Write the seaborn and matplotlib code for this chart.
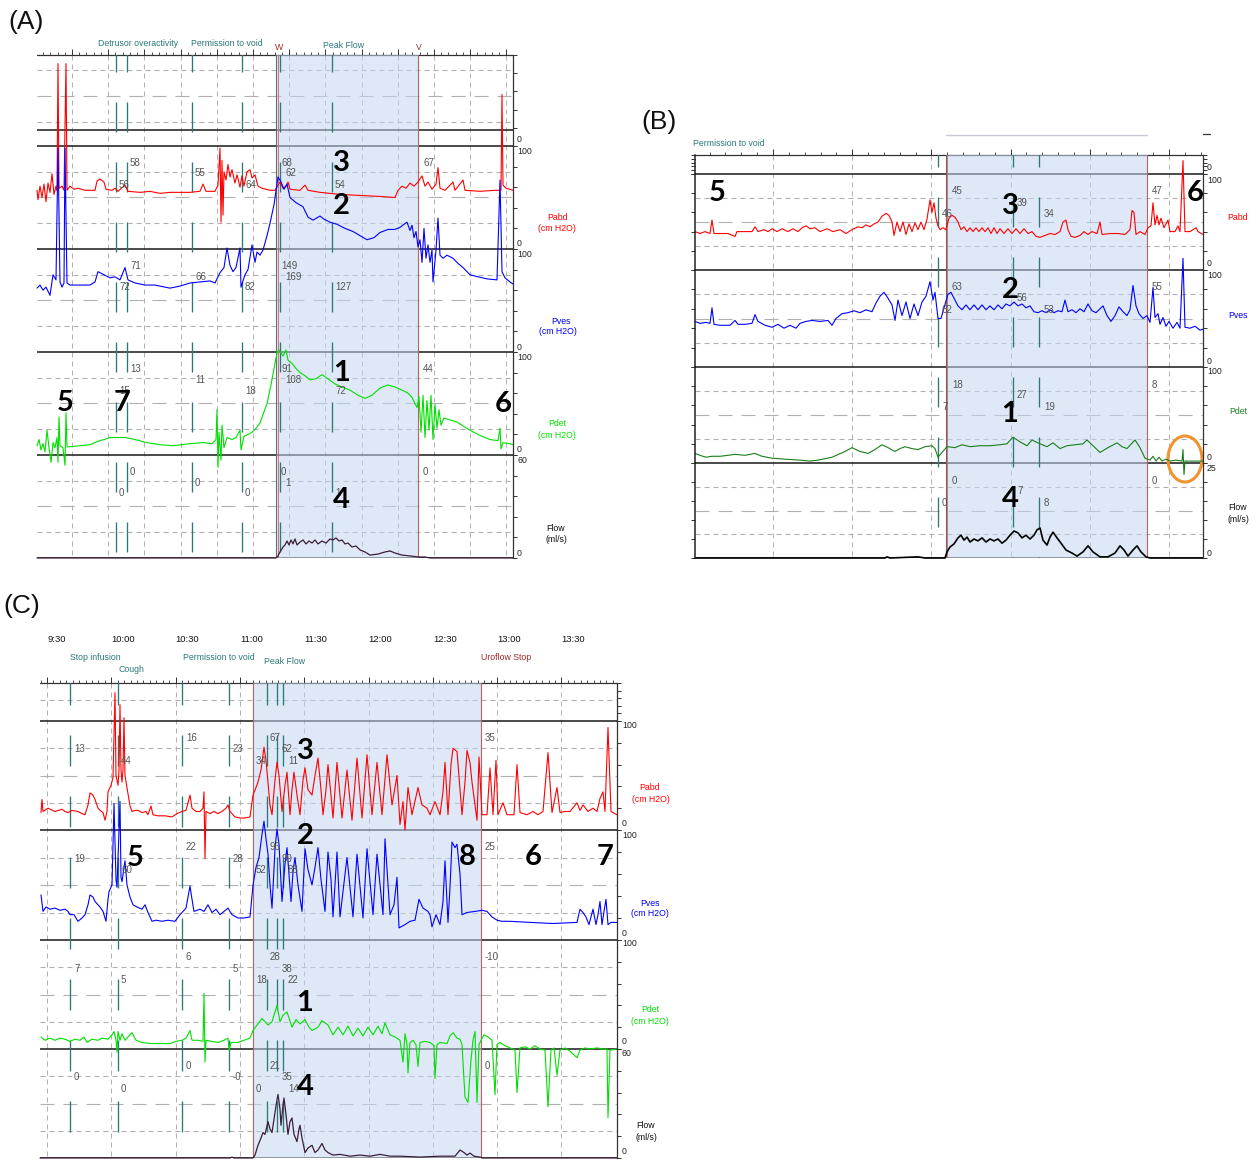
import numpy as np
import pandas as pd
import seaborn as sns
import matplotlib.pyplot as plt

sns.set_theme(style="white")
plt.rcParams['font.family'] = ['Liberation Sans', 'DejaVu Sans']
plt.rcParams['lines.scale_dashes'] = False

# ------------------------------------------------------------------ data
# (time index, value) pairs read from the tracings
A_pabd = [(0,57),(1,48),(3,61),(5,50),(7,63),(9,46),(11,64),(13,55),(15,73),(17,53),(19,61),(20,57),(21,180),(22,59),(25,61),(27,57),(29,180),(30,57),(33,61),(37,58),(41,59),(48,57),(58,57),(60,66),(63,68),(67,65),(69,58),(75,57),(78,59),(81,56),(88,62),(91,56),(103,55),(113,56),(123,54),(133,55),(143,55),(153,55),(163,56),(166,63),(169,56),(178,56),(181,62),(183,98),(184,26),(185,86),(186,33),(187,75),(189,67),(191,82),(193,70),(195,77),(198,64),(200,72),(203,60),(205,71),(207,61),(210,75),(213,77),(215,69),(218,72),(221,61),(225,59),(229,58),(233,57),(238,57),(243,65),(246,59),(249,61),(251,65),(253,58),(263,57),(268,62),(271,57),(283,55),(303,53),(323,52),(343,51),(358,50),(361,57),(365,61),(369,59),(373,64),(377,61),(381,65),(385,71),(388,61),(391,65),(395,58),(399,63),(401,79),(403,59),(408,57),(416,65),(418,57),(426,67),(428,57),(443,56),(458,57),(464,57),(465,150),(466,62),(469,59),(476,57)]
A_pves = [(0,62),(3,65),(6,60),(9,63),(13,55),(16,75),(19,70),(21,198),(23,68),(25,63),(27,67),(28,198),(30,67),(33,65),(43,65),(53,65),(58,68),(61,78),(65,76),(69,74),(73,72),(78,73),(83,70),(88,82),(91,70),(98,67),(108,65),(118,65),(128,63),(133,62),(143,64),(153,67),(163,68),(173,69),(178,67),(183,77),(187,82),(190,101),(193,84),(196,78),(199,82),(203,101),(204,63),(208,75),(211,80),(215,104),(218,87),(220,97),(223,94),(226,99),(230,113),(233,125),(237,143),(241,170),(244,165),(247,158),(250,163),(253,150),(259,145),(266,141),(271,131),(276,128),(283,132),(287,129),(293,126),(300,124),(308,120),(316,117),(323,113),(330,109),(337,111),(343,116),(351,119),(358,119),(363,121),(367,124),(370,126),(373,118),(375,123),(377,111),(379,117),(381,102),(383,109),(385,87),(387,120),(389,91),(391,104),(393,87),(395,99),(396,68),(397,78),(399,99),(401,130),(403,94),(406,91),(410,94),(416,91),(421,86),(426,82),(433,75),(441,73),(450,71),(460,70),(463,167),(465,78),(468,72),(473,68),(476,66)]
A_pdet = [(0,9),(2,15),(4,5),(6,11),(8,3),(10,24),(12,7),(14,-7),(16,12),(18,7),(20,17),(21,-7),(22,37),(23,9),(26,7),(28,-10),(29,41),(30,8),(33,8),(43,9),(53,10),(60,13),(67,15),(73,17),(81,17),(88,17),(98,15),(110,12),(123,10),(136,9),(153,11),(166,12),(175,11),(179,15),(180,44),(181,-12),(182,22),(184,-5),(185,29),(187,7),(190,17),(195,15),(199,17),(203,24),(204,5),(207,18),(211,20),(215,22),(219,26),(223,31),(227,42),(230,50),(234,68),(237,84),(240,99),(242,102),(246,96),(249,102),(251,92),(255,89),(259,84),(263,80),(268,77),(273,73),(279,74),(285,78),(291,74),(298,69),(305,66),(313,63),(321,58),(328,55),(335,58),(343,65),(351,68),(358,66),(365,63),(371,60),(375,56),(378,50),(380,46),(382,57),(384,22),(386,58),(388,17),(390,53),(392,24),(394,58),(396,15),(398,49),(400,26),(402,44),(404,29),(407,36),(413,34),(420,32),(428,27),(435,23),(443,19),(453,15),(461,14),(463,26),(464,6),(466,12),(473,11),(476,10)]
A_flow = [(0,0),(239,0),(241,1.2),(243,3.5),(246,6.4),(248,7.6),(250,9.9),(252,7.6),(254,10.5),(256,8.2),(258,11.1),(260,7.6),(263,9.3),(266,10.5),(269,8.2),(272,9.9),(275,8.7),(278,10.5),(281,8.2),(285,9.9),(289,8.7),(293,11.1),(296,10.5),(299,11.7),(302,9.9),(305,10.5),(308,8.2),(311,8.7),(315,6.4),(319,7.0),(323,4.7),(328,3.5),(333,1.7),(341,2.3),(348,3.5),(353,4.1),(358,2.9),(365,1.7),(373,1.2),(381,0.6),(388,0.6),(393,0),(476,0)]

B_pabd = [(0,40),(5,38),(10,40),(15,38),(17,52),(19,38),(25,38),(33,38),(40,35),(42,40),(50,40),(57,40),(60,45),(63,40),(69,42),(73,40),(77,43),(82,40),(87,43),(93,40),(98,43),(103,40),(107,44),(111,46),(115,43),(120,44),(125,40),(132,43),(138,40),(145,42),(151,38),(157,42),(163,45),(167,44),(171,47),(175,45),(179,48),(183,50),(187,56),(191,59),(194,57),(197,50),(199,36),(202,50),(205,40),(208,50),(211,37),(214,48),(217,40),(220,49),(223,42),(226,50),(229,42),(232,53),(235,73),(237,60),(239,70),(241,54),(243,46),(245,42),(248,44),(251,42),(254,54),(257,57),(260,55),(263,50),(266,42),(269,45),(272,40),(275,44),(278,40),(281,44),(284,40),(287,44),(290,40),(293,44),(296,38),(299,44),(302,38),(305,43),(309,38),(313,43),(317,38),(321,43),(325,38),(329,43),(333,38),(337,40),(341,35),(345,34),(350,36),(355,38),(360,37),(365,40),(368,50),(371,52),(373,42),(376,35),(380,34),(385,36),(389,40),(393,37),(397,40),(402,38),(405,50),(407,37),(415,38),(423,38),(430,37),(435,42),(437,62),(439,60),(441,37),(445,40),(450,37),(453,44),(456,46),(458,70),(460,47),(462,57),(464,47),(466,54),(469,44),(473,52),(475,40),(480,40),(483,46),(485,40),(488,114),(490,40),(495,40),(501,44),(503,40),(508,37)]
B_pves = [(0,47),(5,45),(11,46),(15,45),(17,61),(19,44),(25,43),(35,43),(40,48),(43,44),(50,44),(57,45),(60,54),(63,47),(70,43),(77,41),(83,44),(89,40),(95,43),(101,40),(105,45),(111,47),(117,48),(125,47),(133,48),(137,43),(141,50),(147,55),(153,56),(159,58),(165,56),(171,59),(177,57),(181,66),(185,73),(189,77),(193,71),(197,64),(200,48),(203,69),(207,53),(211,67),(215,50),(219,65),(223,53),(227,67),(231,73),(235,88),(238,69),(240,77),(243,50),(246,50),(249,61),(253,75),(256,77),(259,71),(263,63),(267,59),(271,64),(275,59),(279,64),(283,59),(287,64),(291,59),(295,63),(299,59),(303,64),(307,60),(311,65),(315,63),(319,67),(323,63),(327,65),(331,61),(335,63),(339,57),(343,56),(347,58),(351,56),(355,59),(359,56),(363,58),(367,57),(370,69),(373,57),(377,59),(381,56),(385,60),(389,57),(393,65),(397,58),(401,56),(405,60),(408,63),(412,53),(416,47),(420,53),(424,62),(428,57),(432,53),(435,59),(438,84),(441,63),(444,55),(448,50),(452,53),(455,46),(458,82),(460,51),(463,55),(465,44),(468,51),(471,42),(474,47),(478,40),(482,46),(485,40),(488,112),(490,41),(495,40),(500,42),(505,38),(508,39)]
B_pdet = [(0,10),(5,8),(11,6),(17,7),(25,7),(33,8),(40,9),(50,8),(60,10),(67,7),(77,5),(90,4),(105,3),(115,2),(123,3),(137,6),(150,12),(157,16),(165,12),(173,10),(180,14),(187,19),(193,16),(200,12),(205,15),(210,17),(217,15),(223,14),(230,17),(237,18),(240,15),(243,6),(247,11),(252,17),(260,16),(267,19),(275,17),(285,18),(295,18),(305,19),(312,20),(318,27),(325,22),(332,18),(337,24),(345,20),(352,17),(358,21),(365,15),(372,18),(380,19),(388,20),(392,24),(398,18),(405,11),(413,16),(422,21),(427,17),(432,15),(440,24),(445,16),(450,5),(455,3),(458,7),(461,2),(464,6),(467,2),(471,4),(475,2),(481,3),(487,2),(488,14),(489,-12),(490,2),(497,2),(508,2)]
B_flow = [(0,0),(190,0),(192,0.3),(195,0),(223,0.3),(230,0),(250,0),(252,1.6),(255,2.9),(259,3.7),(263,5.3),(266,6.0),(269,4.7),(272,5.5),(275,4.2),(279,5.0),(283,4.5),(287,5.3),(291,4.2),(295,5.0),(299,4.5),(303,5.0),(307,3.9),(311,4.7),(315,6.0),(319,7.1),(323,6.6),(327,5.3),(331,6.0),(335,5.0),(339,6.0),(342,7.4),(345,7.9),(348,4.7),(352,3.4),(355,5.5),(358,6.8),(362,5.3),(366,3.9),(371,2.1),(377,1.3),(382,0.5),(388,1.6),(393,3.2),(398,1.6),(405,0.3),(413,0.3),(420,1.3),(425,3.2),(429,2.1),(433,0.5),(438,2.1),(442,3.2),(446,1.6),(451,0.3),(455,0),(508,0)]

C_pabd = [(1,16),(2,28),(3,17),(8,20),(15,17),(22,19),(25,17),(28,16),(32,18),(38,17),(42,15),(45,14),(48,23),(50,34),(53,32),(55,28),(58,20),(60,18),(63,16),(65,9),(67,17),(68,35),(71,41),(73,48),(75,126),(76,50),(78,41),(79,55),(80,115),(81,55),(82,44),(83,55),(84,103),(85,50),(87,39),(90,22),(92,17),(95,18),(98,18),(102,16),(106,17),(108,14),(111,22),(113,14),(118,13),(125,13),(132,12),(137,15),(142,17),(146,18),(150,32),(152,20),(156,17),(160,17),(163,20),(164,35),(165,-26),(166,17),(170,15),(174,17),(178,15),(182,17),(186,20),(188,23),(190,17),(195,12),(200,11),(205,11),(210,12),(213,32),(216,39),(218,44),(221,55),(224,76),(226,64),(228,44),(230,23),(232,14),(235,46),(237,62),(239,50),(242,17),(245,41),(247,53),(250,14),(252,37),(254,53),(257,32),(260,14),(263,46),(265,57),(268,37),(272,32),(275,50),(278,66),(281,37),(283,14),(286,37),(288,60),(291,32),(293,11),(297,62),(302,11),(307,55),(312,9),(317,66),(322,11),(327,69),(332,14),(337,62),(342,14),(347,69),(352,23),(357,50),(360,5),(363,26),(365,0),(368,39),(372,14),(378,39),(382,23),(387,20),(390,14),(395,26),(400,14),(403,35),(405,62),(408,14),(411,60),(413,75),(417,72),(422,14),(425,44),(427,73),(430,62),(432,44),(437,9),(439,67),(442,14),(447,14),(450,57),(453,14),(456,64),(458,14),(463,25),(467,14),(474,14),(477,60),(480,16),(487,14),(493,17),(498,14),(503,17),(508,71),(512,16),(517,39),(520,16),(525,17),(530,17),(537,25),(540,18),(543,23),(548,17),(553,20),(557,17),(560,29),(563,35),(565,17),(568,94),(571,17),(577,14)]
C_pves = [(1,41),(3,26),(6,30),(10,28),(15,29),(20,27),(25,28),(28,26),(30,23),(34,23),(38,17),(42,20),(45,23),(48,32),(50,41),(53,39),(55,35),(60,30),(63,26),(66,17),(68,37),(69,44),(72,50),(74,124),(76,55),(77,48),(80,126),(81,57),(82,53),(85,72),(87,50),(90,39),(93,32),(97,30),(102,28),(105,32),(108,25),(112,17),(116,18),(122,17),(128,18),(135,17),(140,23),(143,26),(146,29),(150,49),(152,37),(154,26),(160,28),(164,26),(168,32),(172,25),(176,28),(180,23),(184,26),(188,29),(192,23),(198,20),(204,20),(210,21),(213,50),(216,66),(219,75),(222,96),(224,108),(226,92),(228,78),(230,50),(232,29),(235,83),(237,101),(239,87),(242,35),(245,69),(247,84),(251,35),(253,62),(255,75),(258,50),(262,26),(265,83),(268,64),(272,50),(275,66),(278,84),(281,55),(285,26),(288,80),(291,55),(293,21),(297,80),(300,21),(307,75),(313,21),(317,78),(323,20),(327,83),(333,23),(337,78),(343,23),(345,92),(350,23),(354,32),(357,57),(359,11),(365,14),(370,17),(375,18),(379,37),(383,29),(388,26),(390,23),(392,12),(396,23),(400,14),(403,35),(405,72),(408,16),(410,48),(412,89),(415,84),(417,87),(420,60),(422,23),(427,25),(435,26),(442,27),(447,26),(452,21),(457,18),(462,17),(470,17),(490,16),(513,15),(537,16),(540,28),(543,25),(546,21),(549,14),(551,21),(553,28),(556,14),(558,23),(560,35),(562,14),(564,26),(566,37),(568,14),(571,16),(577,16)]
C_pdet = [(1,11),(5,8),(10,10),(15,8),(20,10),(25,9),(30,7),(35,9),(40,8),(44,11),(47,6),(52,9),(58,8),(62,10),(68,9),(72,13),(74,16),(76,8),(77,-3),(78,16),(80,8),(82,14),(85,8),(89,12),(92,15),(96,8),(102,6),(110,5),(120,5),(130,5),(136,7),(142,8),(146,10),(150,17),(152,8),(158,8),(163,7),(164,51),(165,-12),(166,8),(172,7),(178,6),(184,8),(188,10),(189,-1),(191,6),(198,6),(204,8),(210,10),(213,17),(217,22),(222,28),(225,25),(228,22),(232,25),(235,34),(237,40),(240,25),(243,31),(247,34),(252,20),(256,27),(260,23),(265,27),(269,20),(272,17),(278,20),(282,26),(288,22),(293,13),(298,20),(303,13),(308,21),(313,12),(318,19),(323,12),(328,20),(333,13),(338,21),(342,14),(345,24),(350,13),(355,11),(360,8),(363,-12),(365,14),(367,4),(368,-22),(370,6),(373,8),(376,4),(378,-16),(380,6),(385,7),(390,6),(394,3),(395,-27),(397,4),(400,6),(407,5),(410,12),(413,15),(417,10),(420,9),(422,4),(425,-44),(428,-49),(431,-10),(433,8),(435,16),(437,-49),(439,4),(441,8),(444,13),(448,11),(452,8),(455,-42),(457,4),(460,6),(465,3),(470,1),(475,-1),(477,-40),(480,1),(485,2),(490,0),(495,3),(500,0),(505,-1),(508,-53),(511,-1),(514,1),(517,-24),(520,-1),(525,1),(530,-2),(537,-8),(540,-1),(545,1),(550,0),(557,1),(563,0),(567,0),(568,-63),(570,-1),(577,0)]
C_flow = [(0,0),(190,0),(192,0.5),(194,0),(213,0),(215,1.6),(218,7),(221,11),(223,14),(225,13),(228,20),(230,16),(232,14),(235,25),(237,32),(238,35),(240,27),(241,18),(243,29),(244,33),(246,24),(248,13),(250,20),(252,22),(254,13),(257,9),(259,16),(260,18),(262,11),(265,3),(268,5.5),(272,7),(275,3),(278,4.4),(282,8),(285,4.4),(288,3),(293,1.6),(300,2),(310,1),(320,1.6),(330,1),(340,2),(350,1),(360,1),(380,0.5),(400,1),(415,1),(420,4.4),(424,3),(427,1.6),(430,2.7),(434,1),(440,0.5),(442,0),(577,0)]

# event markers (time index) and void periods
A_events = [79, 90, 155, 205, 243, 295]
B_events = [243, 318, 344]
C_events = [30, 78, 142, 189, 227, 237, 243]
A_void = (239, 381)
B_void = (251, 452)
C_void = (213, 441)

# cursor value columns: (text x px, row, [Pabd, Pves, Pdet, Flow])
A_values = [(119,'c',['56','72','15','0']),(130,'a',['58','71','13','0']),(195,'b',['55','66','11','0']),
            (245,'c',['64','82','18','0']),(281,'a',['68','149','91','0']),(285,'b',['62','169','108','1']),
            (335,'c',['54','127','72','1']),(423,'a',['67','','44','0'])]
B_values = [(942,'c',['46','62','7','0']),(952,'a',['45','63','18','0']),(1017,'b',['39','56','27','7']),
            (1044,'c',['34','53','19','8']),(1152,'a',['47','55','8','0'])]
C_values = [(74,'b',['13','19','7','0']),(121,'c',['44','60','5','0']),(186,'a',['16','22','6','0']),
            (233,'b',['23','28','5','-0']),(256,'c',['34','52','18','0']),(270,'a',['67','96','28','21']),
            (282,'b',['62','99','38','35']),(288,'c',['11','88','22','14']),(485,'a',['35','25','-10','0'])]
C_times = ['9:30', '10:00', '10:30', '11:00', '11:30', '12:00', '12:30', '13:00', '13:30']

# ------------------------------------------------------------------ layout
W, H = 1257, 1161
PT = 0.72
fig = plt.figure(figsize=(W / 100, H / 100), dpi=100)
fig.patch.set_facecolor('white')

RED, BLUE, GREEN, DGREEN = '#ff0000', '#0000ff', '#00e000', '#1a7f1a'
FLOWC, TEAL, DRED = '#3c1e3c', '#2a7a78', '#a02828'
GRID = '#b0b0b0'


def px_rect(x0, y0, x1, y1):
    return [x0 / W, 1 - y1 / H, (x1 - x0) / W, (y1 - y0) / H]


def ftext(x, y, s, **kw):
    kw.setdefault('va', 'center')
    kw.setdefault('ha', 'left')
    kw.setdefault('fontsize', 6.3)
    fig.text(x / W, 1 - y / H, s, **kw)


def draw_panel(P):
    L, R = P['left'], P['right']
    top = P['ruler']
    bounds = P['bounds']
    bot = bounds[-1]
    width = R - L
    bg = fig.add_axes(px_rect(L, top, R, bot))
    bg.set_xlim(0, width)
    bg.set_ylim(bot, top)
    bg.axis('off')
    bg.set_zorder(0)
    bg.patch.set_alpha(0)
    short = (5 * PT, 4 * PT)
    long_ = (14 * PT, 9 * PT)
    gx = np.arange(P['grid0'], width, P['grid_step'])
    for x in gx:
        bg.plot([x, x], [top, bot], color=GRID, lw=0.7, dashes=short, zorder=1)
    for a, b in zip(bounds[:-1], bounds[1:]):
        h = b - a
        for f, d in [(0.25, short), (0.5, long_), (0.75, short)]:
            bg.plot([0, width], [a + f * h] * 2, color=GRID, lw=0.8, dashes=d, zorder=1)
    for y, kind in P['top_dashes']:
        bg.plot([0, width], [y, y], color=GRID, lw=0.8, dashes=short if kind == 's' else long_, zorder=1)
    for y in bounds + P['extra']:
        bg.plot([0, width], [y, y], color='#222222', lw=1.15, zorder=2, solid_capstyle='butt')
    # ruler
    bg.plot([0, width], [top, top], color='#333333', lw=0.9, clip_on=False, zorder=2)
    step = P['grid_step'] / P['tpg']
    minor = np.arange(P['grid0'] % step, width, step)
    bg.vlines(minor, top - 3, top, color='#333333', lw=0.6, clip_on=False)
    bg.vlines(gx, top - 6, top, color='#333333', lw=0.7, clip_on=False)
    # void shading
    s0, s1 = P['void']
    bg.axvspan(s0, s1, facecolor='#c4d6f0', alpha=0.55, lw=0, zorder=3)
    for x in (s0, s1):
        bg.plot([x, x], [top, bot], color='#6a6a6a', lw=0.8, zorder=3.5)
    for x in P['red']:
        bg.plot([x, x], [top, bot], color='#d06060', lw=0.6, zorder=3.6)
    # event markers
    on = P['on']
    off = P['period'] - on
    for x in P['events']:
        bg.plot([x, x], [P['dash_start'], bot], color=TEAL, lw=0.95,
                dashes=(on * PT, off * PT), zorder=4)
    # channel axes
    chans = [(P['top_chan'], (0, 1), None, None)] + P['channels']
    edges = [P['ruler']] + bounds
    for i, (name, (lo, hi), col, data) in enumerate(chans):
        y0, y1 = edges[i], edges[i + 1]
        ax = fig.add_axes(px_rect(L, y0, R, y1))
        ax.set_zorder(1)
        ax.patch.set_alpha(0)
        if data is not None:
            df = pd.DataFrame(data, columns=['t', 'v'])
            sns.lineplot(data=df, x='t', y='v', ax=ax, color=col, lw=P['lw'].get(name, 0.8),
                         estimator=None, sort=False, clip_on=False, errorbar=None)
        ax.set_xlim(0, width)
        ax.set_ylim(lo, hi)
        ax.set_xlabel('')
        ax.set_ylabel('')
        for sp in ax.spines.values():
            sp.set_visible(False)
        ax.spines['right'].set_visible(True)
        ax.spines['right'].set_color('#333333')
        ax.spines['right'].set_linewidth(0.9)
        ax.set_xticks([])
        ax.set_yticks(np.linspace(lo, hi, 6))
        left_on = P['left_spine']
        if left_on:
            ax.spines['left'].set_visible(True)
            ax.spines['left'].set_color('#222222')
            ax.spines['left'].set_linewidth(1.1)
        ax.tick_params(axis='y', which='both', direction='out', length=3, width=0.7,
                       color='#333333', left=left_on, right=True,
                       labelleft=False, labelright=False)
    # cursor values
    for xl, row, vals in P['values']:
        for i, v in enumerate(vals):
            if v:
                ftext(xl, bounds[i] + P['rows'][row], v, color='#555555', fontsize=7)
    return bg


A = dict(left=37, right=513, ruler=55, bounds=[146, 249, 352, 455, 558], extra=[130],
         top_dashes=[(70, 's'), (96, 'l'), (122, 's')], grid0=35, grid_step=36.2, tpg=5,
         void=A_void, red=[241, 381], events=A_events, dash_start=42, period=60, on=30,
         left_spine=False, top_chan='top',
         channels=[('Pabd', (0, 100), RED, A_pabd), ('Pves', (0, 100), BLUE, A_pves),
                   ('Pdet', (0, 100), GREEN, A_pdet), ('Flow', (0, 60), FLOWC, A_flow)],
         values=A_values, rows={'a': 17, 'b': 27.5, 'c': 38.5}, lw={'Flow': 0.9})
B = dict(left=695, right=1203, ruler=155, bounds=[174, 270, 367, 463, 558], extra=[],
         top_dashes=[], grid0=78, grid_step=79.2, tpg=5,
         void=B_void, red=[252, 452], events=B_events, dash_start=137, period=60, on=30,
         left_spine=True, top_chan='top',
         channels=[('Pabd', (0, 100), RED, B_pabd), ('Pves', (0, 100), BLUE, B_pves),
                   ('Pdet', (0, 100), DGREEN, B_pdet), ('Flow', (0, 25), '#000000', B_flow)],
         values=B_values, rows={'a': 17.5, 'b': 28.5, 'c': 40}, lw={'Flow': 1.2})
C = dict(left=40, right=617, ruler=683, bounds=[721, 830, 940, 1049, 1158], extra=[],
         top_dashes=[(700, 's')], grid0=7, grid_step=64.3, tpg=10,
         void=C_void, red=[213, 441], events=C_events, dash_start=674, period=61, on=31,
         left_spine=False, top_chan='top',
         channels=[('Pabd', (0, 100), RED, C_pabd), ('Pves', (0, 100), BLUE, C_pves),
                   ('Pdet', (0, 100), GREEN, C_pdet), ('Flow', (0, 60), FLOWC, C_flow)],
         values=C_values, rows={'a': 17, 'b': 28.5, 'c': 40}, lw={'Flow': 0.9})

bgA = draw_panel(A)
bgB = draw_panel(B)
bgC = draw_panel(C)

# B event bar above the ruler
bgB.plot(list(B_void), [135, 135], color='#c8c8d6', lw=1.0, clip_on=False)
bgB.plot([508, 515], [134, 134], color='#333333', lw=0.9, clip_on=False)

# ------------------------------------------------------------------ text
for lab, x, y in [('(A)', 8, 22), ('(B)', 641, 122), ('(C)', 3, 606)]:
    ftext(x, y, lab, fontsize=19, color='#111111')

ftext(98, 44, 'Detrusor overactivity', color=TEAL)
ftext(191, 43, 'Permission to void', color=TEAL)
ftext(275, 48, 'W', color=DRED)
ftext(323, 45, 'Peak Flow', color=TEAL)
ftext(416, 48, 'V', color=DRED)
ftext(693, 143, 'Permission to void', color=TEAL)
for k, t in enumerate(C_times):
    ftext(47 + 64.3 * k, 640, t, fontsize=6.8, color='#111111')
ftext(70, 657, 'Stop infusion', color=TEAL)
ftext(118, 669, 'Cough', color=TEAL)
ftext(183, 657, 'Permission to void', color=TEAL)
ftext(264, 661, 'Peak Flow', color=TEAL)
ftext(481, 657, 'Uroflow Stop', color=DRED)

for x, labs in [(517, [('0', 140), ('100', 151), ('0', 243), ('100', 254), ('0', 347), ('100', 357),
                       ('0', 450), ('60', 461), ('0', 553)]),
                (1207, [('0', 168), ('100', 180), ('0', 264), ('100', 276), ('0', 361), ('100', 372),
                        ('0', 457), ('25', 468), ('0', 553)]),
                (622, [('100', 726), ('0', 824), ('100', 835), ('0', 933), ('100', 944), ('0', 1042),
                       ('60', 1054), ('0', 1152)])]:
    for s, y in labs:
        ftext(x, y, s, color='#222222', fontsize=6.3)

for s, x, y, c in [('Pabd', 557, 218, RED), ('(cm H2O)', 557, 229, RED),
                   ('Pves', 561, 321, BLUE), ('(cm H2O)', 558, 332, BLUE),
                   ('Pdet', 557, 424, GREEN), ('(cm H2O)', 557, 435, GREEN),
                   ('Flow', 556, 528, '#111111'), ('(ml/s)', 556, 539, '#111111'),
                   ('Pabd', 1238, 218, RED), ('Pves', 1238, 315, BLUE), ('Pdet', 1238, 411, DGREEN),
                   ('Flow', 1238, 508, '#111111'), ('(ml/s)', 1238, 519, '#111111'),
                   ('Pabd', 650, 788, RED), ('(cm H2O)', 651, 799, RED),
                   ('Pves', 650, 903, BLUE), ('(cm H2O)', 650, 914, BLUE),
                   ('Pdet', 650, 1010, GREEN), ('(cm H2O)', 650, 1021, GREEN),
                   ('Flow', 646, 1126, '#111111'), ('(ml/s)', 646, 1137, '#111111')]:
    ftext(x, y, s, ha='center', color=c, fontsize=6.3)

BIG = dict(ha='center', fontsize=21, fontweight='bold', color='black', family=['Lato', 'DejaVu Sans'])
for s, x, y in [('3', 341, 163), ('2', 341, 206), ('1', 342, 373), ('4', 341, 500),
                ('5', 65, 403), ('7', 122, 403), ('6', 503, 404),
                ('5', 717, 193), ('3', 1010, 206), ('6', 1195, 193), ('2', 1010, 290),
                ('1', 1010, 414), ('4', 1010, 499),
                ('3', 305, 751), ('2', 305, 836), ('5', 135, 858), ('8', 467, 857),
                ('6', 533, 857), ('7', 605, 857), ('1', 305, 1003), ('4', 305, 1087)]:
    ftext(x, y, s, **BIG)

# orange circle in B
circ = plt.matplotlib.patches.Ellipse(((1185) / W, 1 - 459 / H), 34 / W, 46 / H,
                                      transform=fig.transFigure, fill=False,
                                      edgecolor='#f39230', lw=2.2)
fig.add_artist(circ)

fig.savefig('out.png', dpi=100, facecolor='white')
